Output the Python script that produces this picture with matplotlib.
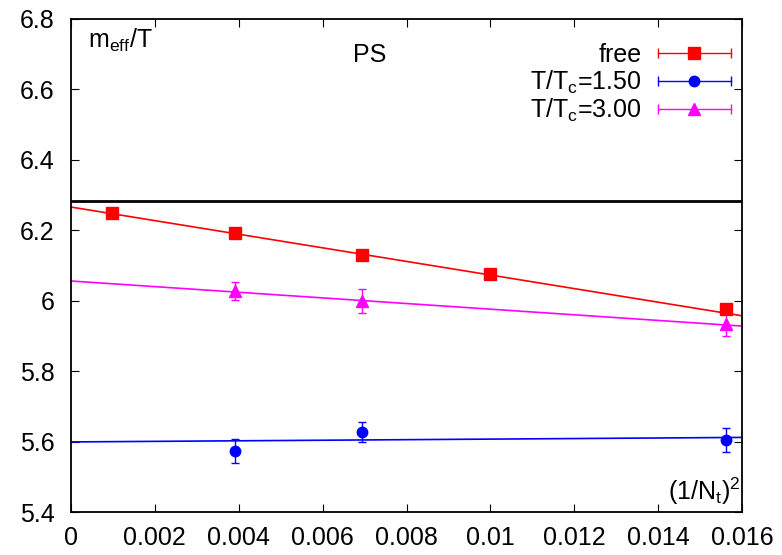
import matplotlib
matplotlib.use("Agg")
import matplotlib.pyplot as plt
import numpy as np

plt.rcParams['font.family'] = ['Liberation Sans', 'DejaVu Sans']
plt.rcParams['mathtext.fontset'] = 'custom'
plt.rcParams['mathtext.rm'] = 'Liberation Sans'
plt.rcParams['mathtext.it'] = 'Liberation Sans'

x_free = [0.000977, 0.003906, 0.006944, 0.01, 0.015625]
y_free = [6.248, 6.192, 6.130, 6.075, 5.976]
e_free = [0.003, 0.003, 0.003, 0.003, 0.003]

x_15 = [0.003906, 0.006944, 0.015625]
y_15 = [5.573, 5.627, 5.604]
e_15 = [0.034, 0.028, 0.034]

x_30 = [0.003906, 0.006944, 0.015625]
y_30 = [6.027, 5.999, 5.935]
e_30 = [0.026, 0.034, 0.034]

fit_free = (6.266, -19.3)
fit_15 = (5.599, 0.8)
fit_30 = (6.056, -8.0)

free_limit = 2 * np.pi

labels = ['free', r'T/T$_{\mathrm{c}}$=1.50', r'T/T$_{\mathrm{c}}$=3.00']
colors = ['#ff0000', '#0000ff', '#ff00ff']
markers = ['s', 'o', '^']
msizes = [8, 7.5, 8]

W, H = 782, 555
L, R, T, B = 71, 742, 19, 512
fig = plt.figure(figsize=(W/100, H/100), dpi=100)
ax = fig.add_axes([L/W, 1 - B/H, (R-L)/W, (B-T)/H])
ax.set_xlim(0, 0.016)
ax.set_ylim(5.4, 6.8)

xs = np.array([0, 0.016])
ax.plot(xs, fit_free[0] + fit_free[1] * xs, color=colors[0], lw=1.2)
ax.plot(xs, fit_15[0] + fit_15[1] * xs, color=colors[1], lw=1.2)
ax.plot(xs, fit_30[0] + fit_30[1] * xs, color=colors[2], lw=1.2)
ax.axhline(free_limit, color='black', lw=2.0)

for xv, yv, ev, c, m, s in [(x_free, y_free, e_free, colors[0], markers[0], msizes[0]),
                            (x_15, y_15, e_15, colors[1], markers[1], msizes[1]),
                            (x_30, y_30, e_30, colors[2], markers[2], msizes[2])]:
    ax.errorbar(xv, yv, yerr=ev, fmt=m, color=c, ms=s, capsize=3, elinewidth=1, capthick=1)

ax.set_xticks([0, 0.002, 0.004, 0.006, 0.008, 0.01, 0.012, 0.014, 0.016])
ax.set_xticklabels(['0', '0.002', '0.004', '0.006', '0.008', '0.01', '0.012', '0.014', '0.016'])
ax.set_yticks([5.4, 5.6, 5.8, 6.0, 6.2, 6.4, 6.6, 6.8])
ax.set_yticklabels(['5.4', '5.6', '5.8', '6', '6.2', '6.4', '6.6', '6.8'])
ax.tick_params(direction='in', length=6, labelsize=18, top=True, right=True)
ax.tick_params(axis='x', pad=10)
ax.tick_params(axis='y', pad=12)
for s in ax.spines.values():
    s.set_linewidth(1.3)

def fx(px):
    return (px - L) / (R - L)

def fy(py):
    return (B - py) / (B - T)

ax.text(fx(88), fy(48), r'm$_{\mathrm{eff}}$/T', transform=ax.transAxes, fontsize=18, va='baseline', ha='left')
ax.text(fx(370), fy(62), 'PS', transform=ax.transAxes, fontsize=18, va='baseline', ha='center')
ax.text(fx(740), fy(500), r'(1/N$_{\mathrm{t}}$)$^{2}$', transform=ax.transAxes, fontsize=18, va='baseline', ha='right')

# key (gnuplot style, horizontal bars with caps)
rows = [53, 81, 109]
for lab, c, m, s, ry in zip(labels, colors, markers, msizes, rows):
    ax.text(fx(642), fy(ry + 9), lab, transform=ax.transAxes, fontsize=18, va='baseline', ha='right')
    ax.plot([fx(658), fx(731)], [fy(ry), fy(ry)], color=c, lw=1, transform=ax.transAxes, clip_on=False)
    ax.plot([fx(658), fx(731)], [fy(ry), fy(ry)], ls='none', marker='|', ms=7, mew=1, color=c,
            transform=ax.transAxes, clip_on=False)
    ax.plot([fx(694)], [fy(ry)], ls='none', marker=m, ms=s, color=c, transform=ax.transAxes, clip_on=False)

fig.savefig('out.png', dpi=100)
